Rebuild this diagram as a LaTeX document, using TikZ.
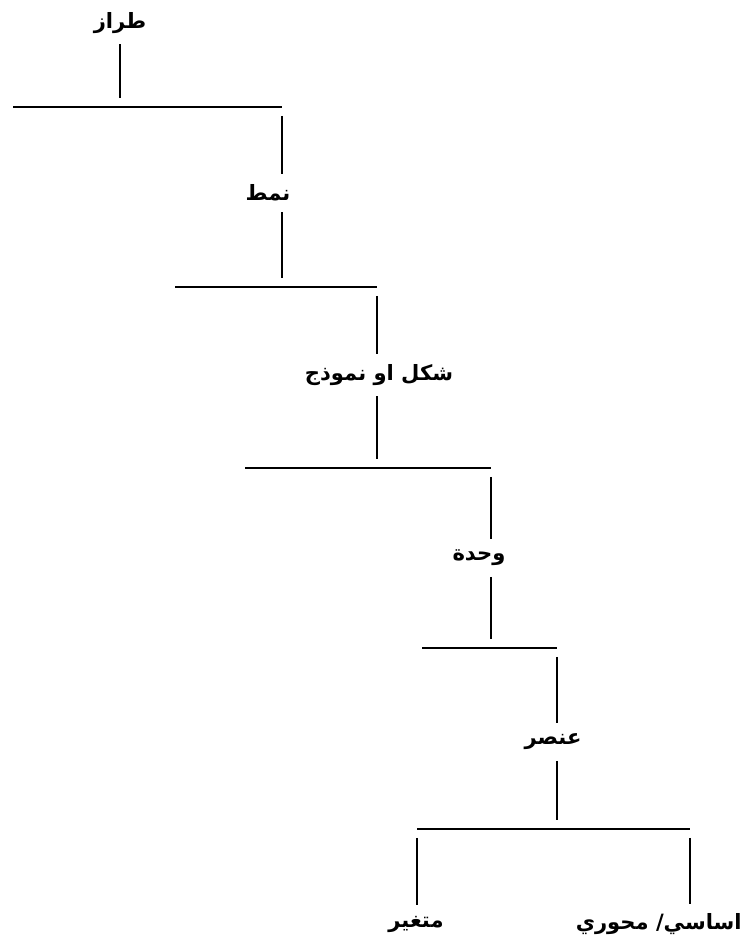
\documentclass[tikz,border=0pt]{standalone}
\usepackage{fontspec}
\newfontfamily\arabicfont[Script=Arabic]{DejaVu Sans}
\TeXXeTstate=1
\usetikzlibrary{positioning}

\begin{document}
\begin{tikzpicture}[x=0.02cm,y=-0.02cm]
\tikzstyle{lbl}=[font=\arabicfont\bfseries\fontsize{12}{14}\selectfont,inner sep=1pt]
\tikzstyle{bar}=[line width=1.6pt]
\tikzstyle{stem}=[line width=1.6pt,shorten <=5pt,shorten >=5pt]
\useasboundingbox (0,0) rectangle (742,939);
\node[lbl] (tiraz) at (120,23) {\beginR طراز\endR};
\node[lbl] (namat) at (268,193) {\beginR نمط\endR};
\node[lbl] (shakl) at (379,375) {\beginR شكل او نموذج\endR};
\node[lbl] (wahda) at (479,558) {\beginR وحدة\endR};
\node[lbl] (unsur) at (553,742) {\beginR عنصر\endR};
\node[lbl] (mutaghayyir) at (416,924) {\beginR متغير\endR};
\node[lbl,anchor=east,inner sep=0pt] (asasi) at (742,924) {\beginR اساسي/ محوري\endR};
\coordinate (b1l) at (13,107); \coordinate (b1r) at (282,107);
\coordinate (b2l) at (175,287); \coordinate (b2r) at (377,287);
\coordinate (b3l) at (245,468); \coordinate (b3r) at (491,468);
\coordinate (b4l) at (422,648); \coordinate (b4r) at (557,648);
\coordinate (b5l) at (417,829); \coordinate (b5r) at (690,829);
\draw[bar] (b1l) -- (b1r);
\draw[bar] (b2l) -- (b2r);
\draw[bar] (b3l) -- (b3r);
\draw[bar] (b4l) -- (b4r);
\draw[bar] (b5l) -- (b5r);
\draw[stem] (tiraz.south) -- (tiraz.south |- b1l);
\draw[stem] (b1r) -- (b1r |- namat.north);
\draw[stem] (b1r |- namat.south) -- (b1r |- b2l);
\draw[stem] (b2r) -- (b2r |- shakl.north);
\draw[stem] (b2r |- shakl.south) -- (b2r |- b3l);
\draw[stem] (b3r) -- (b3r |- wahda.north);
\draw[stem] (b3r |- wahda.south) -- (b3r |- b4l);
\draw[stem] (b4r) -- (b4r |- unsur.north);
\draw[stem] (b4r |- unsur.south) -- (b4r |- b5l);
\draw[stem] (b5l) -- (b5l |- mutaghayyir.north);
\draw[stem] (b5r) -- (b5r |- asasi.north);
\end{tikzpicture}
\end{document}
